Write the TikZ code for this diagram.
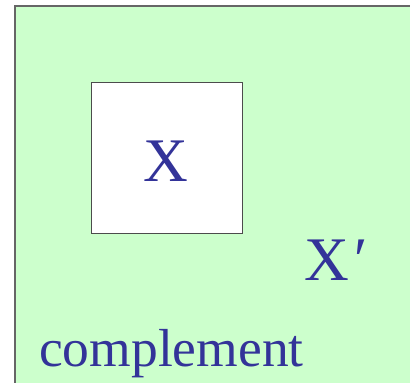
\documentclass[tikz,border=0pt]{standalone}
\usepackage{fontspec}
\setmainfont{Liberation Serif}
\definecolor{setblue}{HTML}{333399}
\definecolor{complgreen}{HTML}{CCFFCC}

\begin{document}
\begin{tikzpicture}
[
	label/.style={text=setblue,inner sep=0pt,font=\fontsize{62}{62}\selectfont},
	x=1pt,y=-1pt
]

	\useasboundingbox (0,0) rectangle (410,383);

	% universe (complement region)
	\fill[complgreen] (15,6) rectangle (410,383);
	\draw[black!60,line width=1.2pt] (15,383) -- (15,6) -- (410,6);

	% the set X
	\node[draw=black!70,fill=white,line width=0.8pt,minimum width=151pt,minimum height=151pt,inner sep=0pt] (setx) at (166.5,157.5) {};

	\node[label,anchor=base] (xlabel) at (166,181) {X};
	\node[label,anchor=base west] (xprime) at (304,280) {X\kern2pt\textit{′}};
	\node[label,anchor=base west,font=\fontsize{53.5}{53.5}\selectfont] (compl) at (39,366) {complement};

\end{tikzpicture}
\end{document}
